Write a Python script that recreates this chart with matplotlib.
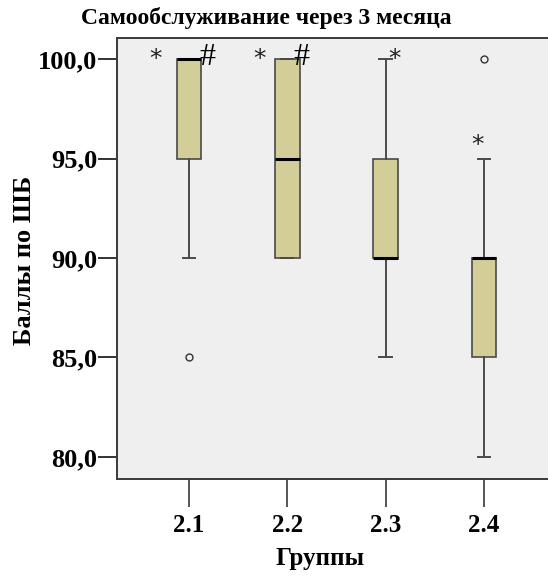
import matplotlib
matplotlib.use('Agg')
import matplotlib.pyplot as plt

# данные: группы и пятичисловые сводки
groups = ['2.1', '2.2', '2.3', '2.4']
whis_lo = [90, 90, 85, 80]
q1 = [95, 90, 90, 85]
med = [100, 95, 90, 90]
q3 = [100, 100, 95, 90]
whis_hi = [100, 100, 100, 95]
outliers = [[85], [], [], [100]]

# пометки значимости: символ, группа, значение
marks = ['*', '#', '*', '#', '*', '*']
mark_group = [0, 0, 1, 1, 2, 3]
mark_value = [100, 100, 100, 100, 100, 95.7]
mark_dx = [-0.34, 0.19, -0.28, 0.14, 0.09, -0.07]

yticks = [80, 85, 90, 95, 100]

plt.rcParams['font.family'] = ['Liberation Serif', 'DejaVu Serif']

fig = plt.figure(figsize=(5.48, 5.79), dpi=100)
ax = fig.add_axes([117 / 548, 1 - 479 / 579, 1 - 117 / 548, 441 / 579])
ax.set_facecolor('#efefef')

stats = []
for i in range(len(groups)):
    stats.append({'whislo': whis_lo[i], 'q1': q1[i], 'med': med[i],
                  'q3': q3[i], 'whishi': whis_hi[i], 'fliers': outliers[i]})

ax.bxp(stats, positions=range(len(groups)), widths=0.25, capwidths=0.125,
       patch_artist=True, showfliers=True,
       boxprops=dict(facecolor='#d3ce98', edgecolor='#4a4a4a', linewidth=1.2),
       medianprops=dict(color='black', linewidth=2.2),
       whiskerprops=dict(color='#4a4a4a', linewidth=1.4),
       capprops=dict(color='#4a4a4a', linewidth=1.4),
       flierprops=dict(marker='o', markersize=5, markerfacecolor='none',
                       markeredgecolor='#333333', markeredgewidth=1.0))

for s, g, v, dx in zip(marks, mark_group, mark_value, mark_dx):
    if s == '*':
        ax.text(g + dx, v, s, ha='center', va='center', fontsize=18,
                family='DejaVu Sans', color='#222222')
    else:
        ax.text(g + dx, v + 0.1, s, ha='center', va='center', fontsize=23,
                color='black')

ax.set_xlim(-0.73, 3.65)
ax.set_ylim(78.89, 101.06)
ax.set_xticks(range(len(groups)))
ax.set_xticklabels(groups)
ax.set_yticks(yticks)
ax.set_yticklabels([f'{t:.1f}'.replace('.', ',') for t in yticks])

for lab in ax.get_xticklabels():
    lab.set_fontsize(18)
    lab.set_fontweight('bold')
for lab in ax.get_yticklabels():
    lab.set_fontsize(19)
    lab.set_fontweight('bold')

ax.tick_params(axis='y', length=14, width=1.4, color='#333333', pad=0)
ax.tick_params(axis='x', length=20, width=1.4, color='#555555', pad=5)
ax.spines['right'].set_visible(False)
for sp in ['left', 'top', 'bottom']:
    ax.spines[sp].set_color('#3a3a3a')
    ax.spines[sp].set_linewidth(1.4)

fig.text(266 / 548, 1 - 18 / 579, 'Самообслуживание через 3 месяца',
         ha='center', va='center', fontsize=17, fontweight='bold')
fig.text(320 / 548, 1 - 559 / 579, 'Группы',
         ha='center', va='center', fontsize=18, fontweight='bold')
fig.text(25 / 548, 1 - 260 / 579, 'Баллы по ШБ', rotation=90,
         ha='center', va='center', fontsize=19, fontweight='bold')

fig.savefig('out.png', dpi=100)
